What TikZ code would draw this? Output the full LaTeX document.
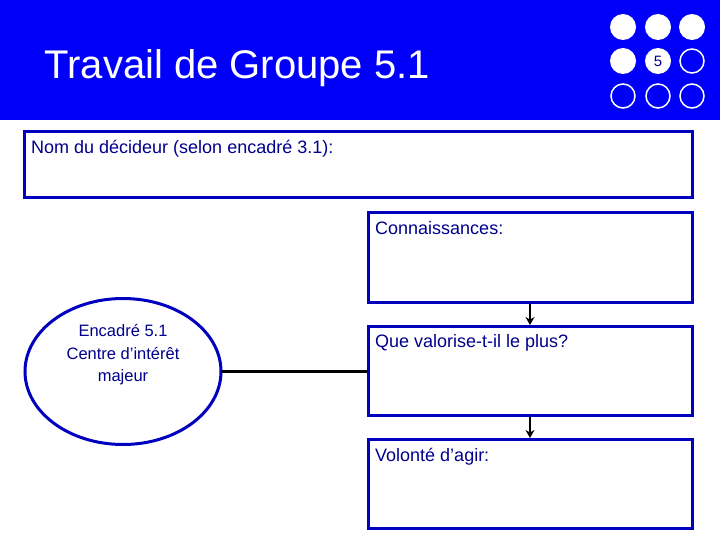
\documentclass[tikz,border=0pt]{standalone}
\usepackage{fontspec}
\setmainfont{Liberation Sans}
\usetikzlibrary{arrows.meta}
\definecolor{headblue}{RGB}{0,0,250}
\definecolor{framenavy}{RGB}{0,0,190}
\definecolor{textnavy}{RGB}{0,0,140}
\tikzset{
  box/.style={draw=framenavy, line width=3pt, rectangle, minimum width=324pt, minimum height=89pt, inner sep=0pt},
  boxtext/.style={anchor=north west, inner sep=0pt, text=textnavy, font=\fontsize{18}{21}\selectfont},
  dotfull/.style={circle, fill=white, minimum size=26pt, inner sep=0pt},
  dotopen/.style={circle, draw=white, line width=1.5pt, minimum size=24pt, inner sep=0pt}
}
\begin{document}
\begin{tikzpicture}[x=1pt,y=-1pt]
  \useasboundingbox (0,0) rectangle (720,540);

  % Header band and title
  \fill [headblue] (0,0) rectangle (720,120);
  \node [anchor=west, text=white, font=\fontsize{40}{44}\selectfont] (title) at (41,68) {Travail de Groupe 5.1};

  % Marking chapter dots
  \node [dotfull] (d11) at (623,27) {};
  \node [dotfull] (d12) at (658,27) {};
  \node [dotfull] (d13) at (692,27) {};
  \node [dotfull] (d21) at (623,61) {};
  \node [dotfull, text=textnavy, font=\fontsize{15}{15}\selectfont] (d22) at (658,61) {5};
  \node [dotopen] (d23) at (692,61) {};
  \node [dotopen] (d31) at (623,96) {};
  \node [dotopen] (d32) at (658,96) {};
  \node [dotopen] (d33) at (692,96) {};

  % Decision maker box
  \node [box, minimum width=668pt, minimum height=66pt] (nom) at (358,165) {};
  \node [boxtext] (nomtext) at (31,140) {Nom du décideur (selon encadré 3.1):};

  % Right column boxes
  \node [box] (conn) at (530,257.5) {};
  \node [boxtext] (conntext) at (375,221) {Connaissances:};
  \node [box] (valeur) at (530,371) {};
  \node [boxtext] (valeurtext) at (375,334) {Que valorise-t-il le plus?};
  \node [box] (agir) at (530,484) {};
  \node [boxtext] (agirtext) at (375,448) {Volonté d’agir:};

  % Ellipse for the main interest
  \draw [framenavy, line width=3pt] (123,371.5) ellipse (98 and 73);
  \coordinate (centre) at (221,371);
  \node [align=center, text=textnavy, font=\fontsize{16.5}{22.5}\selectfont] (centretext) at (123,355) {Encadré 5.1\\Centre d’intérêt\\majeur};

  % Connectors
  \draw [black, line width=3pt] (centre) -- (valeur.west);
  \draw [black, line width=2pt, -{Stealth[length=8pt,width=9pt]}] (conn.south) -- (valeur.north);
  \draw [black, line width=2pt, -{Stealth[length=8pt,width=9pt]}] (valeur.south) -- (agir.north);
\end{tikzpicture}
\end{document}
